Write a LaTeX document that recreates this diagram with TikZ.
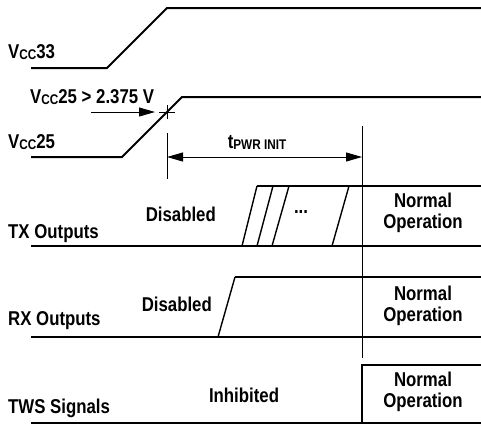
\documentclass[tikz,border=0pt]{standalone}
\usepackage{fontspec}
\newfontfamily\labelfont{Liberation Sans Bold}[FakeStretch=0.84]
\usetikzlibrary{arrows.meta}
\newcommand{\vcc}{V\raisebox{-1.5pt}{\fontsize{14}{14}\selectfont CC}}
\newcommand{\tpwr}{t\raisebox{-1.5pt}{\fontsize{14}{14}\selectfont PWR INIT}}

\begin{document}
\begin{tikzpicture}[x=1pt,y=-1pt,
  lbl/.style={font=\labelfont\fontsize{20}{21}\selectfont,inner sep=0pt},
  state/.style={lbl,align=center},
  sig/.style={line width=2pt},
  edge/.style={line width=1.4pt},
  guide/.style={line width=0.9pt},
  tip/.style={-{Triangle[length=16pt,width=9pt]}},
  dim/.style={guide,{Triangle[length=16pt,width=9pt]}-{Triangle[length=16pt,width=9pt]}}
]
\useasboundingbox (0,0) rectangle (481,426);
% supply ramps
\draw[sig] (31,68) -- (107,68) -- (167,8) -- (481,8);
\draw[sig] (31,157) -- (122,157) -- (182,97) -- (481,97);
\node[lbl,anchor=base west] (vcc33) at (8,58) {\vcc33};
\node[lbl,anchor=base west] (thr) at (30,103) {\vcc25 > 2.375 V};
\node[lbl,anchor=base west] (vcc25) at (8,148) {\vcc25};
% threshold crossing
\coordinate (cross) at (167,112);
\coordinate (thrtail) at (91,112);
\draw[guide] ([xshift=-8pt]cross) -- ([xshift=8pt]cross)
  ([yshift=-7pt]cross) -- ([yshift=7pt]cross);
\draw[guide,tip] (thrtail) -- ([xshift=-12pt]cross);
% init interval
\coordinate (t0) at (167,157);
\coordinate (t1) at (362,157);
\draw[guide] (167,133) -- (167,179);
\draw[guide] (362,126) -- (362,358);
\draw[dim] (t0) -- (t1);
\node[lbl,anchor=base] (tpwr) at (257,148) {\tpwr};
% TX outputs
\draw[sig] (31,246) -- (481,246);
\draw[sig] (257,186) -- (481,186);
\foreach \b/\t in {242/257,257/273,272/289,332/349}
  \draw[edge] (\b,246) -- (\t,186);
\node[lbl,anchor=base west] (txlbl) at (8,238) {TX Outputs};
\node[lbl,anchor=base east] (txoff) at (216,221) {Disabled};
\node[lbl,anchor=base] (txdots) at (301,213) {...};
\node[state] (txon) at (423,213) {Normal\\Operation};
% RX outputs
\draw[sig] (31,337) -- (481,337);
\draw[sig] (235,277) -- (481,277);
\draw[edge] (218,337) -- (235,277);
\node[lbl,anchor=base west] (rxlbl) at (8,325) {RX Outputs};
\node[lbl,anchor=base east] (rxoff) at (212,311) {Disabled};
\node[state] (rxon) at (423,306) {Normal\\Operation};
% TWS signals
\draw[sig] (31,423) -- (481,423);
\draw[sig] (362,423) -- (362,365) -- (481,365);
\node[lbl,anchor=base west] (twslbl) at (8,413) {TWS Signals};
\node[lbl,anchor=base] (twsoff) at (244,402) {Inhibited};
\node[state] (twson) at (423,392) {Normal\\Operation};
\end{tikzpicture}
\end{document}
